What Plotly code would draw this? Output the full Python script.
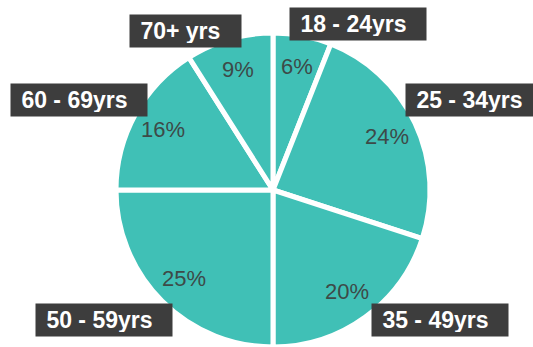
import math
import plotly.graph_objects as go

# Age bands and their share of respondents (percent)
age_groups = ["18 - 24yrs", "25 - 34yrs", "35 - 49yrs", "50 - 59yrs", "60 - 69yrs", "70+ yrs"]
shares = [6, 24, 20, 25, 16, 9]

# Label box placement in pixels: (left, top, width)
label_boxes = {
    "18 - 24yrs": (289, 7, 136),
    "25 - 34yrs": (405, 83, 136),
    "35 - 49yrs": (371, 303, 136),
    "50 - 59yrs": (35, 303, 136),
    "60 - 69yrs": (10, 83, 136),
    "70+ yrs": (129, 14, 111),
}

W, H = 533, 347
TEAL = "#40C0B6"
DARK = "#3d3d3d"

# Pie geometry in pixels
cx, cy = 273, 190
dom_x = [115 / W, 431 / W]
dom_y = [0, 314 / H]
radius = 157

fig = go.Figure(
    go.Pie(
        labels=age_groups,
        values=shares,
        sort=False,
        direction="clockwise",
        rotation=0,
        marker=dict(colors=[TEAL] * len(shares), line=dict(color="white", width=5)),
        textinfo="none",
        hoverinfo="label+percent",
        showlegend=False,
        domain=dict(x=dom_x, y=dom_y),
    )
)

annotations = []

# Percentage labels along each slice's bisector at 0.8 of the radius
total = sum(shares)
cum = 0
for grp, v in zip(age_groups, shares):
    mid = (cum + v / 2) / total * 2 * math.pi
    cum += v
    px = cx + 0.8 * radius * math.sin(mid)
    py = cy - 0.8 * radius * math.cos(mid)
    annotations.append(dict(
        x=px / W, y=1 - py / H, xref="paper", yref="paper",
        text=f"{v}%", showarrow=False,
        xanchor="center", yanchor="middle",
        font=dict(family="Liberation Sans, Arial, sans-serif", size=22, color="#3d4a48"),
    ))

# Dark category tags around the pie
for grp in age_groups:
    left, top, width = label_boxes[grp]
    pad = 4
    annotations.append(dict(
        x=left / W, y=1 - top / H, xref="paper", yref="paper",
        text="&nbsp;" + grp, showarrow=False,
        xanchor="left", yanchor="top", align="left", valign="middle",
        width=width - 2 * pad, height=32 - 2 * pad, borderpad=pad,
        bgcolor=DARK,
        font=dict(family="Liberation Sans, Arial, sans-serif", size=23, color="white", weight="bold"),
    ))

fig.update_layout(
    width=W, height=H,
    margin=dict(l=0, r=0, t=0, b=0),
    paper_bgcolor="white",
    plot_bgcolor="white",
    annotations=annotations,
)

fig.write_html("out.html")
